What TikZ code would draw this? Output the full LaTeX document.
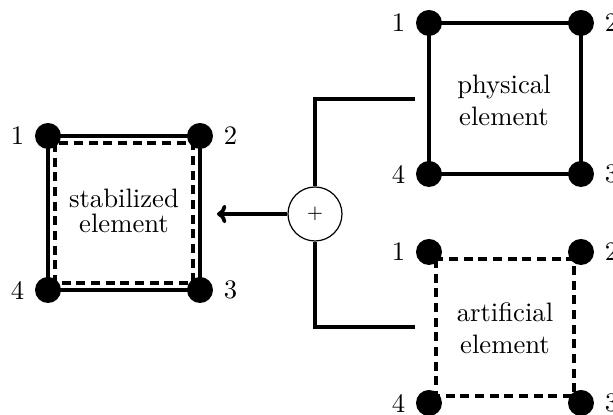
\documentclass[tikz,border=0pt]{standalone}
\usetikzlibrary{arrows.meta}
\begin{document}
\begin{tikzpicture}[x=0.375pt,y=-0.375pt,
  edge/.style={line width=1.4pt},
  dashedge/.style={line width=1.4pt,dash pattern=on 3.4pt off 2.1pt},
  dot/.style={circle,fill=black,inner sep=0pt,minimum size=9.75pt},
  sumnode/.style={circle,draw,line width=0.45pt,minimum size=20.25pt,inner sep=0pt,font=\scriptsize},
  txt/.style={align=center},
  every label/.style={label distance=0.3pt}]
\useasboundingbox (0,0) rectangle (613,415);
% corner coordinates
\coordinate (s1) at (48,136);  \coordinate (s2) at (200,136);
\coordinate (s3) at (200,290); \coordinate (s4) at (48,290);
\coordinate (p1) at (429,23);  \coordinate (p2) at (581,23);
\coordinate (p3) at (581,174); \coordinate (p4) at (429,174);
\coordinate (a1) at (429,252); \coordinate (a2) at (581,252);
\coordinate (a3) at (581,403); \coordinate (a4) at (429,403);
\coordinate (sd1) at (55,143); \coordinate (sd3) at (193,283);
\coordinate (ad1) at (436,259); \coordinate (ad3) at (574,396);
% element edges
\draw[edge] (s1) -- (s2) -- (s3) -- (s4) -- cycle;
\draw[dashedge] (sd1) rectangle (sd3);
\draw[edge] (p1) -- (p2) -- (p3) -- (p4) -- cycle;
\draw[dashedge] (ad1) rectangle (ad3);
% dots
\node[dot,label=left:1]  (ns1) at (s1) {};
\node[dot,label=right:2] (ns2) at (s2) {};
\node[dot,label=right:3] (ns3) at (s3) {};
\node[dot,label=left:4]  (ns4) at (s4) {};
\node[dot,label=left:1]  (np1) at (p1) {};
\node[dot,label=right:2] (np2) at (p2) {};
\node[dot,label=right:3] (np3) at (p3) {};
\node[dot,label=left:4]  (np4) at (p4) {};
\node[dot,label=left:1]  (na1) at (a1) {};
\node[dot,label=right:2] (na2) at (a2) {};
\node[dot,label=right:3] (na3) at (a3) {};
\node[dot,label=left:4]  (na4) at (a4) {};
% texts
\node[txt,font=\fontsize{10}{9.2}\selectfont] (stabt) at (124,211) {stabilized\\element};
\node[txt] (physt) at (504,100) {physical\\element};
\node[txt] (artt) at (505,328) {artificial\\element};
% summation
\node[sumnode] (sum) at (315,214) {$+$};
\coordinate (pin) at (415,99);
\coordinate (ain) at (415,327);
\coordinate (stin) at (217,214);
\draw[edge] (pin) -| (sum.north);
\draw[edge] (ain) -| (sum.south);
\draw[edge,-{To[length=3.5pt,width=7pt]}] (sum.west) -- (stin);
\end{tikzpicture}
\end{document}
